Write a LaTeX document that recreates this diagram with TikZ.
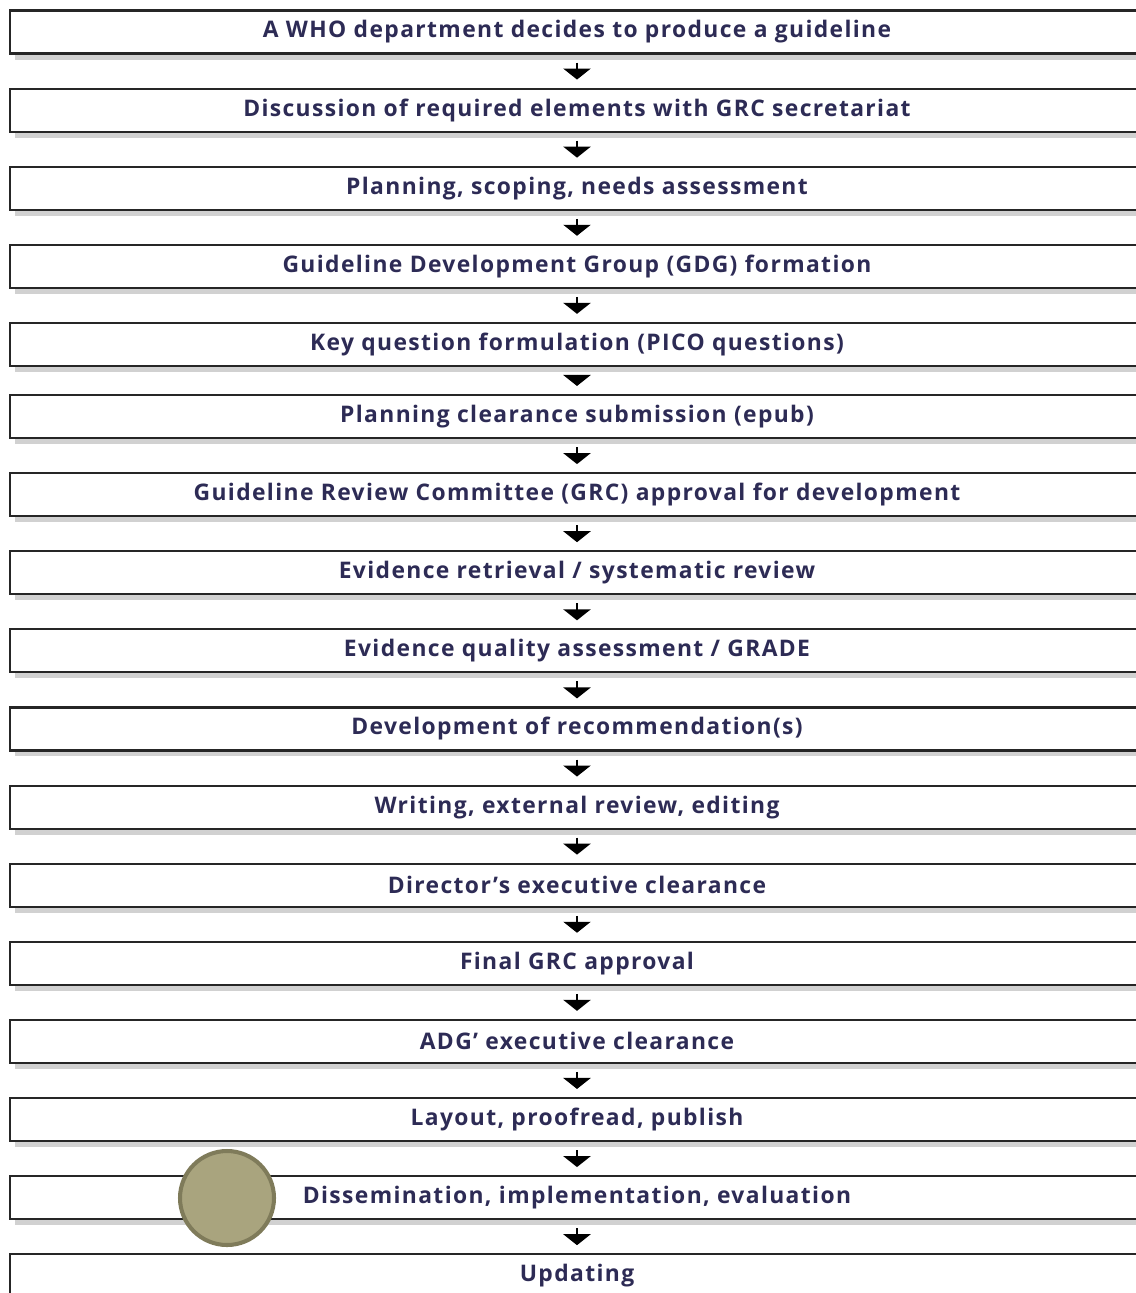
\documentclass[tikz,border=0pt]{standalone}
\usepackage{fontspec}
\setmainfont{Open Sans}[LetterSpace=6]
\usetikzlibrary{arrows.meta,positioning,shadows}
\definecolor{textnavy}{HTML}{2D2B55}
\definecolor{dotfill}{HTML}{A9A47E}
\definecolor{dotdraw}{HTML}{7F7B5A}

\begin{document}
\begin{tikzpicture}[
  >={Triangle[width=5.4mm,length=2.2mm]},
  node distance=6.6mm,
  every node/.style={font=\fontsize{13}{15}\selectfont\bfseries, text=textnavy},
  stage/.style={draw=black!85, line width=1.2pt, fill=white, minimum width=226.8mm, minimum height=8.6mm, inner sep=0pt,
    drop shadow={shadow xshift=1mm, shadow yshift=-1.2mm, fill=black!18, opacity=1}},
  flow/.style={->, line width=1.6pt, shorten <=1.6mm, shorten >=1.6mm}
]
\useasboundingbox (0,0) rectangle (22.72,-25.86);
\node[stage] (who) at (11.54,-0.64) {A WHO department decides to produce a guideline};
\node[stage, below=of who] (discuss) {Discussion of required elements with GRC secretariat};
\node[stage, below=of discuss] (plan) {Planning, scoping, needs assessment};
\node[stage, below=of plan] (gdg) {Guideline Development Group (GDG) formation};
\node[stage, below=of gdg] (pico) {Key question formulation (PICO questions)};
\node[stage, below=5.4mm of pico] (epub) {Planning clearance submission (epub)};
\node[stage, below=of epub] (grc) {Guideline Review Committee (GRC) approval for development};
\node[stage, below=of grc] (retrieve) {Evidence retrieval / systematic review};
\node[stage, below=of retrieve] (grade) {Evidence quality assessment / GRADE};
\node[stage, below=of grade] (recom) {Development of recommendation(s)};
\node[stage, below=of recom] (write) {Writing, external review, editing};
\node[stage, below=of write] (director) {Director’s executive clearance};
\node[stage, below=of director] (final) {Final GRC approval};
\node[stage, below=of final] (adg) {ADG’ executive clearance};
\node[stage, below=of adg] (layout) {Layout, proofread, publish};
\node[stage, below=of layout] (dissem) {Dissemination, implementation, evaluation};
\node[stage, below=of dissem] (update) {Updating};
\foreach \a/\b in {who/discuss, discuss/plan, plan/gdg, gdg/pico, pico/epub, epub/grc, grc/retrieve, retrieve/grade,
  grade/recom, recom/write, write/director, director/final, final/adg, adg/layout, layout/dissem, dissem/update}
  \draw[flow] (\a) -- (\b);
\node[circle, draw=dotdraw, fill=dotfill, line width=2.3pt, minimum size=18.8mm] (dot) at (4.54,-23.96) {};
\end{tikzpicture}
\end{document}
